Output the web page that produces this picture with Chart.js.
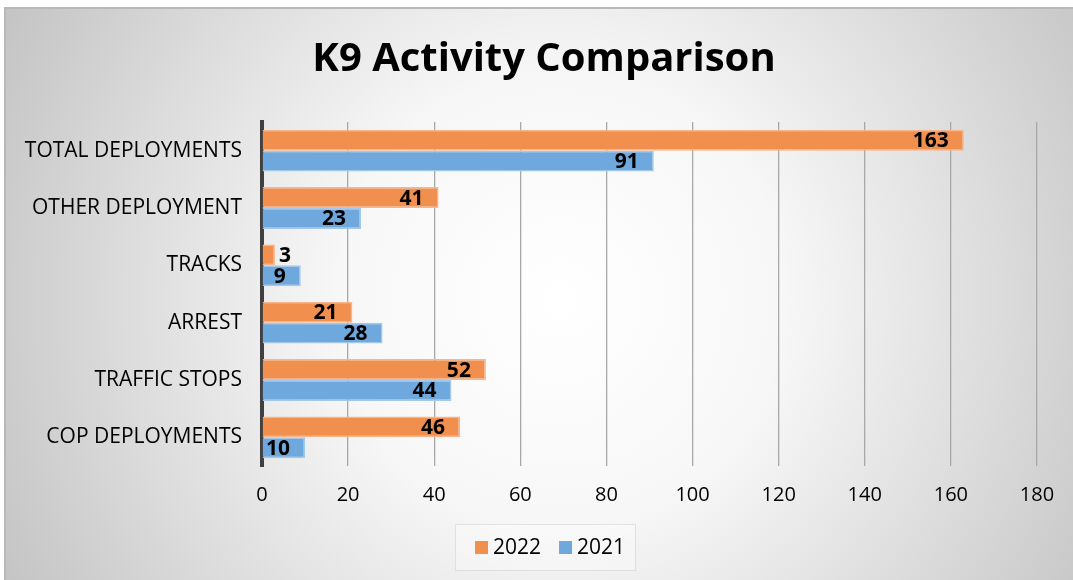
<!DOCTYPE html>
<html>
<head>
<meta charset="utf-8">
<script src="https://cdn.jsdelivr.net/npm/chart.js@4.4.1/dist/chart.umd.min.js"></script>
<style>
  html, body { margin: 0; padding: 0; background: #fff; }
</style>
</head>
<body>
<canvas id="k9Chart" width="1073" height="580"></canvas>
<script>
const categories = ['TOTAL DEPLOYMENTS', 'OTHER DEPLOYMENT', 'TRACKS', 'ARREST', 'TRAFFIC STOPS', 'COP DEPLOYMENTS'];
const values2022 = [163, 41, 3, 21, 52, 46];
const values2021 = [91, 23, 9, 28, 44, 10];
const xTicks = [0, 20, 40, 60, 80, 100, 120, 140, 160, 180];
const chartTitle = 'K9 Activity Comparison';

const FONT = '"Open Sans", "DejaVu Sans", sans-serif';

// Background gradient, frame, title and legend box
const backgroundPlugin = {
    id: 'bgPlugin',
    beforeDraw(chart) {
        const c = chart.ctx;
        const w = chart.width, h = chart.height;
        c.save();
        c.fillStyle = '#fff';
        c.fillRect(0, 0, w, h);
        const g = c.createRadialGradient(560, 300, 0, 560, 300, 640);
        g.addColorStop(0, '#ffffff');
        g.addColorStop(0.35, '#f7f7f7');
        g.addColorStop(1, '#c2c2c2');
        c.fillStyle = g;
        c.fillRect(5, 8, w - 5, h - 8);
        c.strokeStyle = '#b8b8b8';
        c.lineWidth = 2;
        c.beginPath();
        c.moveTo(5, h);
        c.lineTo(5, 8);
        c.lineTo(w, 8);
        c.stroke();

        // title
        c.fillStyle = '#000';
        c.font = 'bold 40px ' + FONT;
        c.textAlign = 'center';
        c.textBaseline = 'middle';
        c.fillText(chartTitle, 544, 60);

        // legend
        const bx = 455, by = 524, bw = 180, bh = 46;
        c.fillStyle = 'rgba(255,255,255,0.3)';
        c.fillRect(bx, by, bw, bh);
        c.strokeStyle = 'rgba(210,210,210,0.6)';
        c.lineWidth = 1;
        c.strokeRect(bx + 0.5, by + 0.5, bw, bh);

        c.font = '21px ' + FONT;
        c.textAlign = 'left';
        let x = 475;
        chart.data.datasets.forEach(ds => {
            c.fillStyle = ds.backgroundColor;
            c.fillRect(x, 541, 13, 13);
            c.fillStyle = '#000';
            c.fillText(ds.label, x + 18, 548);
            x += 18 + c.measureText(ds.label).width + 18;
        });
        c.restore();
    }
};

// Value labels at the inner end of each bar
const valueLabels = {
    id: 'valueLabels',
    afterDatasetsDraw(chart) {
        const c = chart.ctx;
        c.save();
        c.font = 'bold 21px ' + FONT;
        c.fillStyle = '#000';
        c.textBaseline = 'middle';
        chart.data.datasets.forEach((ds, i) => {
            const meta = chart.getDatasetMeta(i);
            meta.data.forEach((bar, j) => {
                const txt = String(ds.data[j]);
                const tw = c.measureText(txt).width;
                const len = bar.x - bar.base;
                if (len > tw + 16) {
                    c.textAlign = 'right';
                    c.fillText(txt, bar.x - 15, bar.y + 1);
                } else if (len > tw + 4) {
                    c.textAlign = 'center';
                    c.fillText(txt, bar.base + len / 2 + 4, bar.y + 1);
                } else {
                    c.textAlign = 'left';
                    c.fillText(txt, bar.x + 4, bar.y + 1);
                }
            });
        });
        c.restore();
    }
};

const ctx = document.getElementById('k9Chart').getContext('2d');

const k9Chart = new Chart(ctx, {
    type: 'bar',
    data: {
        labels: categories,
        datasets: [
            {
                label: '2022',
                data: values2022,
                backgroundColor: '#f08f4e',
                borderColor: '#f6b58a',
                borderWidth: 1.5
            },
            {
                label: '2021',
                data: values2021,
                backgroundColor: '#6fa8dc',
                borderColor: '#a4c8ea',
                borderWidth: 1.5
            }
        ]
    },
    options: {
        indexAxis: 'y',
        responsive: false,
        animation: false,
        devicePixelRatio: 1,
        layout: {
            padding: { left: 0, right: 36, top: 122, bottom: 56 }
        },
        datasets: {
            bar: {
                categoryPercentage: 0.73,
                barPercentage: 1.0
            }
        },
        scales: {
            x: {
                min: 0,
                max: 180,
                afterBuildTicks(scale) {
                    scale.ticks = xTicks.map(v => ({ value: v }));
                },
                ticks: {
                    color: '#000',
                    padding: 17,
                    font: { family: FONT, size: 20 }
                },
                grid: {
                    color: '#a8a8a8',
                    lineWidth: 1.3,
                    drawTicks: false
                },
                border: { display: false }
            },
            y: {
                afterFit(scale) {
                    scale.width = 262;
                },
                ticks: {
                    color: '#000',
                    padding: 20,
                    font: { family: FONT, size: 21 }
                },
                grid: { display: false, drawTicks: false },
                border: { color: '#404040', width: 4 }
            }
        },
        plugins: {
            title: { display: false },
            legend: { display: false },
            tooltip: { enabled: false }
        }
    },
    plugins: [backgroundPlugin, valueLabels]
});
</script>
</body>
</html>
